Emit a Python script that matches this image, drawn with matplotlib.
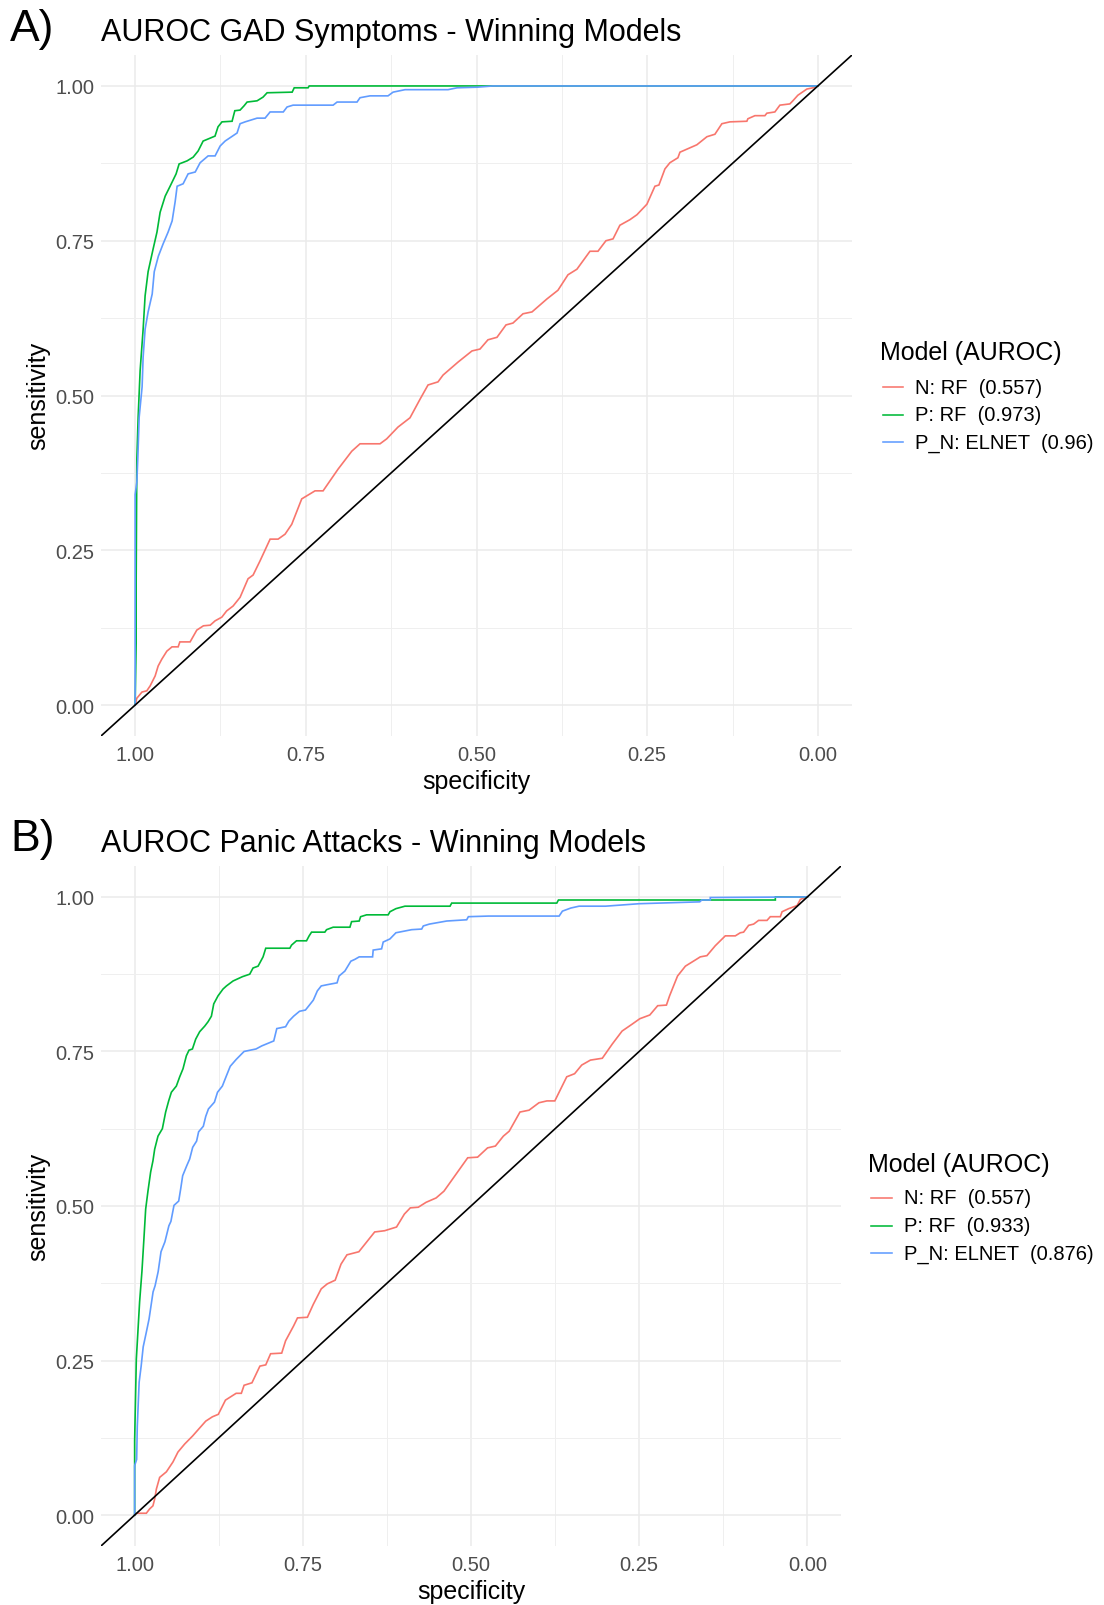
import matplotlib
matplotlib.use("Agg")
import matplotlib.pyplot as plt
from matplotlib.lines import Line2D
from matplotlib.ticker import FixedLocator

plt.rcParams['font.family'] = ['Liberation Sans', 'DejaVu Sans']

# ---------------- data ----------------
model_labels_gad = ["N: RF  (0.557)", "P: RF  (0.973)", "P_N: ELNET  (0.96)"]
model_labels_panic = ["N: RF  (0.557)", "P: RF  (0.933)", "P_N: ELNET  (0.876)"]
model_colors = ["#F8766D", "#00BA38", "#619CFF"]
tick_values = [0.0, 0.25, 0.5, 0.75, 1.0]
tick_labels = ["0.00", "0.25", "0.50", "0.75", "1.00"]

# Panel A - GAD symptoms
gad_n_spec = [1.0, 0.9975, 0.990, 0.9829, 0.978, 0.9707, 0.9663, 0.961, 0.9536, 0.946, 0.937, 0.9345,
              0.9195, 0.9097, 0.900, 0.890, 0.8829, 0.873, 0.866, 0.8565, 0.8463, 0.8346, 0.8272, 0.817,
              0.8023, 0.7906, 0.7804, 0.7706, 0.756, 0.7365, 0.7247, 0.7028, 0.6827, 0.6706, 0.6413,
              0.6315, 0.615, 0.5974, 0.5827, 0.571, 0.5564, 0.549, 0.527, 0.5066, 0.4949, 0.4832, 0.470,
              0.4568, 0.4466, 0.4319, 0.4187, 0.3968, 0.3807, 0.366, 0.3529, 0.3338, 0.3221, 0.3104,
              0.300, 0.290, 0.2753, 0.265, 0.2504, 0.2387, 0.2328, 0.224, 0.2167, 0.205, 0.202, 0.1772,
              0.1625, 0.1508, 0.1406, 0.1288, 0.104, 0.1025, 0.0922, 0.0776, 0.0747, 0.063, 0.0556,
              0.041, 0.0366, 0.0293, 0.0161, 0.0073, 0.0]
gad_n_sens = [0.0, 0.011, 0.021, 0.023, 0.031, 0.047, 0.063, 0.074, 0.087, 0.094, 0.094, 0.102,
              0.102, 0.121, 0.128, 0.129, 0.136, 0.142, 0.152, 0.160, 0.174, 0.204, 0.210, 0.233,
              0.268, 0.268, 0.276, 0.292, 0.333, 0.346, 0.346, 0.381, 0.410, 0.422, 0.422,
              0.430, 0.449, 0.464, 0.494, 0.517, 0.522, 0.533, 0.554, 0.572, 0.575, 0.590, 0.594,
              0.614, 0.617, 0.632, 0.635, 0.656, 0.670, 0.695, 0.704, 0.733, 0.733, 0.750,
              0.753, 0.775, 0.784, 0.792, 0.809, 0.838, 0.840, 0.866, 0.876, 0.884, 0.893, 0.905,
              0.918, 0.922, 0.939, 0.942, 0.943, 0.947, 0.952, 0.952, 0.956, 0.958, 0.969,
              0.971, 0.976, 0.985, 0.995, 0.997, 1.0]

gad_p_spec = [1.0, 0.9985, 0.9985, 0.9975, 0.9956, 0.9927, 0.9883, 0.9854, 0.981, 0.9736, 0.968,
              0.9634, 0.956, 0.9488, 0.9400, 0.9356, 0.9239, 0.915, 0.9077, 0.9004, 0.883, 0.8786,
              0.8728, 0.858, 0.854, 0.8463, 0.8404, 0.836, 0.8214, 0.8126, 0.8067, 0.770, 0.767,
              0.7467, 0.745, 0.0]
gad_p_sens = [0.0, 0.10, 0.20, 0.397, 0.465, 0.540, 0.607, 0.661, 0.700, 0.737, 0.764,
              0.796, 0.822, 0.838, 0.858, 0.874, 0.879, 0.885, 0.895, 0.911, 0.919, 0.934,
              0.942, 0.943, 0.960, 0.961, 0.968, 0.974, 0.976, 0.982, 0.989, 0.990, 0.997,
              0.997, 1.0, 1.0]

gad_pn_spec = [1.0, 1.0, 0.9975, 0.9960, 0.9941, 0.9898, 0.9883, 0.9854, 0.981, 0.975, 0.972, 0.966,
               0.959, 0.9517, 0.9458, 0.9414, 0.9385, 0.9297, 0.9224, 0.912, 0.9048, 0.8931, 0.8829,
               0.8755, 0.8682, 0.8507, 0.8463, 0.8389, 0.8214, 0.8097, 0.8023, 0.783, 0.7775, 0.7687,
               0.710, 0.7042, 0.675, 0.6706, 0.656, 0.6296, 0.6222, 0.6047, 0.5417, 0.5285, 0.4993,
               0.4758, 0.0]
gad_pn_sens = [0.0, 0.34, 0.36, 0.401, 0.465, 0.514, 0.562, 0.607, 0.635, 0.664, 0.700, 0.725,
               0.745, 0.764, 0.782, 0.813, 0.838, 0.842, 0.858, 0.861, 0.876, 0.887, 0.887,
               0.903, 0.911, 0.924, 0.939, 0.942, 0.948, 0.948, 0.958, 0.958, 0.966, 0.969,
               0.969, 0.974, 0.974, 0.981, 0.984, 0.984, 0.990, 0.994, 0.994, 0.997, 0.998,
               1.0, 1.0]

# Panel B - Panic attacks
pan_n_spec = [1.0, 0.9975, 0.9826, 0.9777, 0.9728, 0.9702, 0.9677, 0.9628, 0.9528, 0.943, 0.9356,
              0.9256, 0.9138, 0.9049, 0.8943, 0.8844, 0.8756, 0.865, 0.8491, 0.8414, 0.8373, 0.8256,
              0.8138, 0.8051, 0.7979, 0.7814, 0.7756, 0.7637, 0.7579, 0.7432, 0.7344, 0.7226, 0.7137,
              0.7019, 0.6932, 0.6844, 0.6667, 0.6432, 0.6284, 0.6107, 0.599, 0.5902, 0.5784, 0.5667,
              0.5519, 0.5402, 0.5049, 0.4902, 0.4754, 0.4637, 0.4519, 0.4432, 0.4272, 0.4137, 0.399,
              0.3872, 0.3754, 0.3577, 0.346, 0.3354, 0.3225, 0.3048, 0.290, 0.2754, 0.2607, 0.249,
              0.2342, 0.2225, 0.2095, 0.2048, 0.193, 0.1813, 0.1665, 0.1592, 0.1493, 0.1369, 0.122,
              0.1071, 0.0997, 0.0948, 0.0873, 0.0799, 0.0725, 0.06, 0.0551, 0.0402, 0.0376, 0.0278,
              0.0153, 0.0104, 0.0055, 0.0]
pan_n_sens = [0.0, 0.003, 0.003, 0.010, 0.015, 0.026, 0.042, 0.061, 0.070, 0.086, 0.102,
              0.115, 0.128, 0.139, 0.152, 0.159, 0.163, 0.186, 0.197, 0.197, 0.210, 0.214,
              0.241, 0.243, 0.261, 0.262, 0.282, 0.306, 0.319, 0.320, 0.341, 0.366, 0.374,
              0.380, 0.406, 0.421, 0.426, 0.458, 0.460, 0.466, 0.487, 0.497, 0.498, 0.506,
              0.513, 0.524, 0.578, 0.579, 0.594, 0.597, 0.613, 0.621, 0.652, 0.655, 0.667,
              0.670, 0.670, 0.709, 0.714, 0.728, 0.736, 0.739, 0.762, 0.783, 0.794, 0.803,
              0.809, 0.824, 0.825, 0.840, 0.872, 0.888, 0.898, 0.903, 0.905, 0.921, 0.937,
              0.937, 0.942, 0.943, 0.954, 0.956, 0.962, 0.962, 0.968, 0.968, 0.976, 0.981,
              0.986, 0.996, 0.998, 1.0]

pan_p_spec = [1.0, 1.0, 0.9975, 0.9926, 0.9891, 0.9862, 0.9836, 0.9802, 0.9762, 0.9728, 0.9702,
              0.9653, 0.9588, 0.9539, 0.9494, 0.9454, 0.938, 0.9330, 0.9281, 0.9231, 0.9192, 0.9141,
              0.9092, 0.9033, 0.8958, 0.8909, 0.8859, 0.8824, 0.876, 0.8686, 0.8635, 0.8537, 0.8397,
              0.8289, 0.824, 0.8165, 0.8091, 0.8051, 0.7693, 0.7668, 0.7594, 0.7445, 0.7406, 0.737,
              0.7173, 0.7147, 0.7049, 0.680, 0.6775, 0.6662, 0.6641, 0.6552, 0.6231, 0.6205, 0.6116,
              0.5982, 0.5312, 0.5287, 0.3725, 0.370, 0.0476, 0.0476, 0.0]
pan_p_sens = [0.0, 0.12, 0.252, 0.345, 0.395, 0.447, 0.495, 0.524, 0.555, 0.573, 0.592,
              0.613, 0.625, 0.652, 0.670, 0.684, 0.694, 0.709, 0.722, 0.743, 0.752, 0.754,
              0.770, 0.782, 0.791, 0.798, 0.807, 0.827, 0.840, 0.851, 0.856, 0.864, 0.871,
              0.875, 0.885, 0.888, 0.903, 0.917, 0.917, 0.922, 0.929, 0.929, 0.937, 0.943,
              0.943, 0.947, 0.951, 0.951, 0.960, 0.961, 0.968, 0.971, 0.971, 0.976, 0.981,
              0.985, 0.985, 0.990, 0.990, 0.995, 0.995, 1.0, 1.0]

pan_pn_spec = [1.0, 1.0, 0.997, 0.9961, 0.9933, 0.9903, 0.9873, 0.9826, 0.9786, 0.9726, 0.9696,
               0.9650, 0.9608, 0.9550, 0.9491, 0.9461, 0.9415, 0.9345, 0.9315, 0.9286, 0.9226,
               0.9182, 0.9137, 0.9079, 0.9049, 0.8979, 0.8943, 0.8903, 0.8814, 0.8768, 0.8696,
               0.8638, 0.8579, 0.8491, 0.8373, 0.8196, 0.8110, 0.7932, 0.7887, 0.7756, 0.7708,
               0.7637, 0.7549, 0.7461, 0.7402, 0.7344, 0.7284, 0.7226, 0.7137, 0.6991, 0.6961,
               0.6875, 0.6786, 0.6726, 0.6662, 0.6463, 0.6454, 0.6329, 0.6305, 0.6205, 0.6116,
               0.5882, 0.5733, 0.5709, 0.5620, 0.5361, 0.5064, 0.5039, 0.4741, 0.3690, 0.3641,
               0.3516, 0.3393, 0.30, 0.25, 0.16, 0.157, 0.1443, 0.1443, 0.0]
pan_pn_sens = [0.0, 0.08, 0.09, 0.143, 0.215, 0.241, 0.272, 0.296, 0.317, 0.361, 0.371,
               0.394, 0.426, 0.442, 0.468, 0.475, 0.501, 0.508, 0.528, 0.549, 0.565,
               0.576, 0.595, 0.605, 0.620, 0.629, 0.645, 0.657, 0.668, 0.684, 0.694,
               0.710, 0.726, 0.737, 0.750, 0.754, 0.759, 0.767, 0.787, 0.790, 0.799,
               0.807, 0.815, 0.817, 0.825, 0.833, 0.848, 0.856, 0.858, 0.861, 0.872,
               0.880, 0.896, 0.899, 0.903, 0.903, 0.914, 0.916, 0.927, 0.932, 0.942,
               0.947, 0.948, 0.953, 0.956, 0.961, 0.963, 0.968, 0.969, 0.969, 0.977,
               0.982, 0.985, 0.985, 0.989, 0.992, 0.995, 0.995, 0.999, 1.0]

panels = [
    dict(tag="A)", title="AUROC GAD Symptoms - Winning Models",
         curves=[(gad_n_spec, gad_n_sens), (gad_p_spec, gad_p_sens), (gad_pn_spec, gad_pn_sens)],
         labels=model_labels_gad,
         rect=(101, 56, 852, 737), tag_y=29, title_y=33, ylab_y=396, xlab_y=782,
         leg_title=(880, 353), leg_key_x=(883, 903), leg_text_x=915, leg_rows=[388, 416, 443]),
    dict(tag="B)", title="AUROC Panic Attacks - Winning Models",
         curves=[(pan_n_spec, pan_n_sens), (pan_p_spec, pan_p_sens), (pan_pn_spec, pan_pn_sens)],
         labels=model_labels_panic,
         rect=(101, 867, 841, 1547), tag_y=840, title_y=844, ylab_y=1207, xlab_y=1592,
         leg_title=(868, 1165), leg_key_x=(871, 892), leg_text_x=904, leg_rows=[1199, 1227, 1254]),
]

W, H = 1104, 1606
fig = plt.figure(figsize=(W / 100, H / 100), dpi=100)
fig.patch.set_facecolor("white")


def fx(x):
    return x / W


def fy(y):
    return 1 - y / H


for p in panels:
    l, t, r, b = p["rect"]
    ax = fig.add_axes([fx(l), fy(b), (r - l) / W, (b - t) / H])
    ax.set_xlim(1.05, -0.05)
    ax.set_ylim(-0.05, 1.05)
    for s in ax.spines.values():
        s.set_visible(False)
    ax.xaxis.set_major_locator(FixedLocator(tick_values))
    ax.yaxis.set_major_locator(FixedLocator(tick_values))
    ax.xaxis.set_minor_locator(FixedLocator([0.125, 0.375, 0.625, 0.875]))
    ax.yaxis.set_minor_locator(FixedLocator([0.125, 0.375, 0.625, 0.875]))
    ax.set_xticklabels(tick_labels)
    ax.set_yticklabels(tick_labels)
    ax.tick_params(which="both", length=0)
    ax.tick_params(axis="y", labelsize=14.5, labelcolor="#4D4D4D", pad=5)
    ax.tick_params(axis="x", labelsize=14.5, labelcolor="#4D4D4D", pad=6.5)
    ax.grid(which="major", color="#EBEBEB", lw=1.1)
    ax.grid(which="minor", color="#EFEFEF", lw=0.7)
    ax.set_axisbelow(True)

    for (sp, se), col in zip(p["curves"], model_colors):
        ax.plot(sp, se, color=col, lw=1.2, solid_joinstyle="miter")
    ax.axline((0.0, 1.0), slope=-1, color="black", lw=1.2)

    fig.text(fx(10), fy(p["tag_y"]), p["tag"], fontsize=32, va="center", ha="left")
    fig.text(fx(101), fy(p["title_y"]), p["title"], fontsize=22, va="center", ha="left")
    fig.text(fx(38), fy(p["ylab_y"]), "sensitivity", fontsize=18, rotation=90, va="center", ha="center")
    fig.text(fx((l + r) / 2), fy(p["xlab_y"]), "specificity", fontsize=18, va="center", ha="center")

    tx, ty = p["leg_title"]
    fig.text(fx(tx), fy(ty), "Model (AUROC)", fontsize=18, va="center", ha="left")
    k0, k1 = p["leg_key_x"]
    for lab, col, ry in zip(p["labels"], model_colors, p["leg_rows"]):
        fig.add_artist(Line2D([fx(k0), fx(k1)], [fy(ry), fy(ry)], color=col, lw=1.15,
                              transform=fig.transFigure))
        fig.text(fx(p["leg_text_x"]), fy(ry), lab, fontsize=14.5, va="center", ha="left")

fig.savefig("out.png", dpi=100, facecolor="white")
